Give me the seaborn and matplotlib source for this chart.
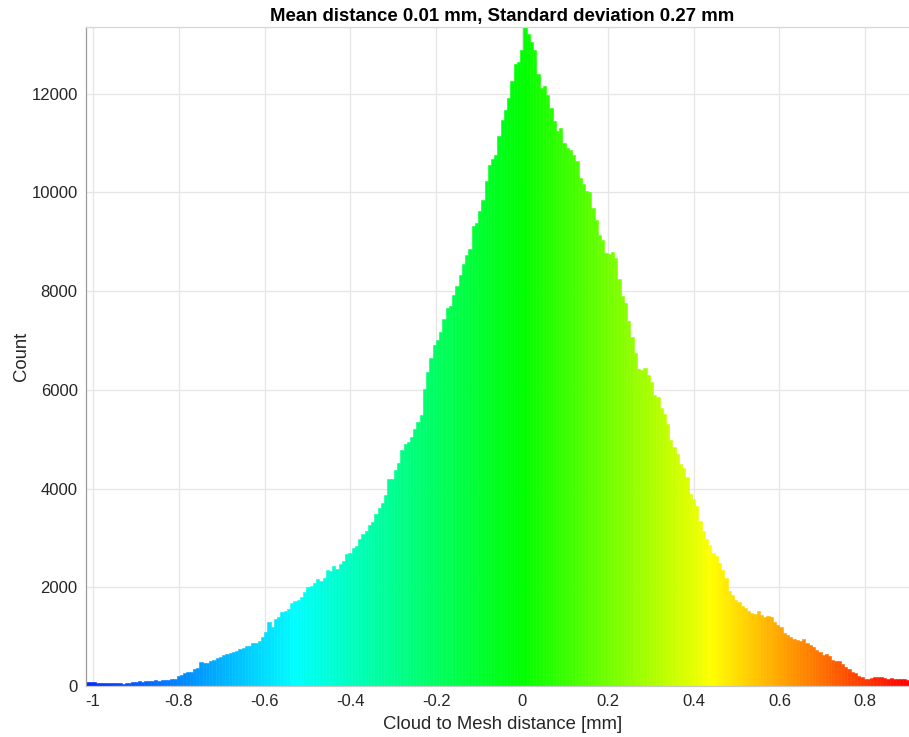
import numpy as np
import pandas as pd
import matplotlib
matplotlib.use("Agg")
import matplotlib.pyplot as plt
import seaborn as sns
from matplotlib.colors import LinearSegmentedColormap, Normalize

# histogram counts per bin (left -> right)
counts = [
    80, 85, 75, 70, 60, 55, 65, 60, 55, 60,
    55, 50, 55, 60, 80, 90, 95, 85, 100, 95,
    110, 115, 105, 120, 125, 130, 140, 150, 210, 230,
    270, 280, 290, 340, 360, 480, 460, 470, 510, 520,
    565, 580, 630, 640, 670, 680, 700, 750, 760, 810,
    820, 880, 870, 920, 1000, 1100,
    1300, 1200, 1350, 1400, 1500, 1520, 1560, 1680, 1720, 1750,
    1800, 1900, 2000, 2030, 2090, 2170, 2135, 2180, 2350, 2320,
    2430, 2370, 2470, 2540, 2680, 2690, 2800, 2840, 2970, 3080,
    3130, 3260, 3330, 3490, 3600, 3700, 3870, 4200, 4200, 4370,
    4510, 4780, 4900, 4950, 5050, 5200, 5350,
    5490, 6015, 6370, 6640, 6910, 7000, 7180, 7430, 7650, 7700,
    7930, 8100, 8330, 8540, 8740, 8860, 9310, 9370, 9620, 9850,
    10240, 10550, 10680, 10760, 11140, 11470, 11660, 11910, 12250, 12610,
    12640, 12890, 13400,
    13200, 13040, 12880, 12390, 12110, 12150, 11980, 11710, 11440, 11250,
    11300, 11000, 10890, 10860, 10760, 10630, 10290, 10160, 10030, 10010,
    9680, 9450, 9140, 9030, 8770, 8750, 8800, 8670, 8240, 7900,
    7760, 7390, 7080, 6740, 6430, 6410, 6440, 6300,
    6150, 5900, 5850, 5630, 5510, 5310, 4990, 4840, 4700, 4500,
    4410, 4230, 3890, 3790, 3650, 3340, 3140, 2970, 2850, 2690,
    2640, 2500, 2350, 2180, 1930, 1845, 1740, 1710, 1620, 1575,
    1510, 1485, 1460, 1510, 1430, 1405, 1420, 1390, 1300, 1235,
    1200, 1070, 1035, 985, 950, 940, 910, 950, 865, 830,
    785, 730, 690, 630, 650, 615, 525, 510, 500, 445,
    390, 340, 290, 255, 200, 175, 150, 150, 155, 175,
    180, 180, 170, 150, 160, 135, 135, 140, 140, 120,
]
x_min, x_max = -1.016, 0.902

xticks = [-1, -0.8, -0.6, -0.4, -0.2, 0, 0.2, 0.4, 0.6, 0.8]
xtick_labels = ["-1", "-0.8", "-0.6", "-0.4", "-0.2", "0", "0.2", "0.4", "0.6", "0.8"]
yticks = [0, 2000, 4000, 6000, 8000, 10000, 12000]

# colour scale stops (value, colour)
scale_values = [-1.016, -0.53, 0.0, 0.445, 0.902]
scale_colors = ["#0028ff", "#00ffff", "#00ff00", "#ffff00", "#ff0000"]

title = "Mean distance 0.01 mm, Standard deviation 0.27 mm"

edges = np.linspace(x_min, x_max, len(counts) + 1)
centers = (edges[:-1] + edges[1:]) / 2
df = pd.DataFrame({"dist": centers, "count": counts})

sns.set_theme(style="white")
plt.rcParams["font.family"] = ["Liberation Sans", "DejaVu Sans"]
plt.rcParams["axes.unicode_minus"] = False

fig = plt.figure(figsize=(9.09, 7.37), dpi=100)
ax = fig.add_axes([86 / 909, 1 - 686 / 737, 1 - 86 / 909, (686 - 27) / 737])

sns.histplot(data=df, x="dist", weights="count", bins=edges.tolist(), ax=ax,
             stat="count", alpha=1, linewidth=0)

span = scale_values[-1] - scale_values[0]
cmap = LinearSegmentedColormap.from_list(
    "c2m", [((v - scale_values[0]) / span, c) for v, c in zip(scale_values, scale_colors)])
norm = Normalize(scale_values[0], scale_values[-1])
for p in ax.patches:
    col = cmap(norm(p.get_x() + p.get_width() / 2))
    p.set_facecolor(col)
    p.set_edgecolor(col)
    p.set_linewidth(0.4)

ax.set_xlim(x_min, x_max)
ax.set_ylim(0, 13350)
ax.set_xticks(xticks)
ax.set_xticklabels(xtick_labels)
ax.set_yticks(yticks)
ax.set_axisbelow(True)
ax.grid(True, color="#e6e6e6", linewidth=0.9)

ax.tick_params(direction="in", length=6, width=0.8, color="#8c8c8c",
               labelsize=12, labelcolor="#262626", pad=6)
ax.spines["left"].set_color("#9a9a9a")
ax.spines["bottom"].set_color("#c8c8c8")
ax.spines["top"].set_color("#d6d6d6")
ax.spines["right"].set_visible(False)
for s in ax.spines.values():
    s.set_linewidth(0.9)

ax.set_xlabel("Cloud to Mesh distance [mm]", fontsize=13.3, color="#262626", labelpad=4)
ax.xaxis.set_label_coords(0.506, -0.045)
ax.set_ylabel("Count", fontsize=13.3, color="#262626", labelpad=1)
ax.set_title(title, fontsize=13.4, fontweight="bold", color="black", pad=4, x=0.506)

fig.savefig("out.png", dpi=100)
